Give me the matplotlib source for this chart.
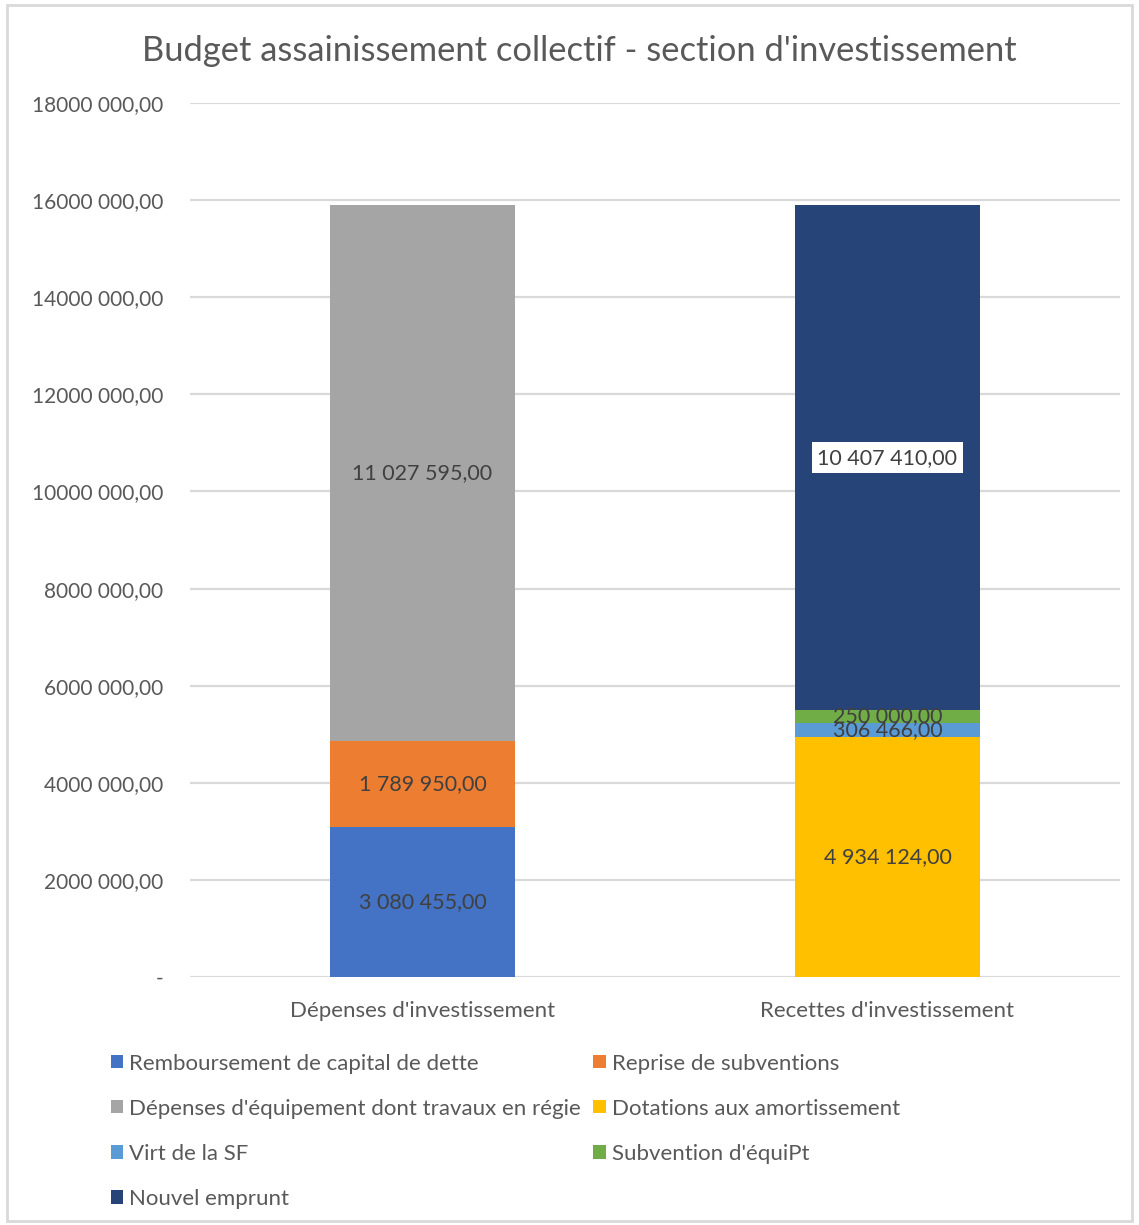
import matplotlib
matplotlib.use("Agg")
import matplotlib.pyplot as plt
from matplotlib.patches import Rectangle, Patch
import numpy as np

categories = ["Dépenses d'investissement", "Recettes d'investissement"]

series_names = [
    "Remboursement de capital de dette",
    "Reprise de subventions",
    "Dépenses d'équipement dont travaux en régie",
    "Dotations aux amortissement",
    "Virt de la SF",
    "Subvention d'équiPt",
    "Nouvel emprunt",
]
remboursement = [3080455.00, 0]
reprise = [1789950.00, 0]
depenses_equip = [11027595.00, 0]
dotations = [0, 4934124.00]
virt_sf = [0, 306466.00]
subvention = [0, 250000.00]
nouvel_emprunt = [0, 10407410.00]

series_values = [remboursement, reprise, depenses_equip, dotations,
                 virt_sf, subvention, nouvel_emprunt]
colors = ["#4472C4", "#ED7D31", "#A5A5A5", "#FFC000",
          "#5B9BD5", "#70AD47", "#264478"]

y_ticks = [0, 2e6, 4e6, 6e6, 8e6, 10e6, 12e6, 14e6, 16e6, 18e6]
y_tick_labels = ["-", "2000 000,00", "4000 000,00", "6000 000,00",
                 "8000 000,00", "10000 000,00", "12000 000,00",
                 "14000 000,00", "16000 000,00", "18000 000,00"]

plt.rcParams["font.family"] = ["Lato", "DejaVu Sans"]
text_color = "#595959"
label_color = "#404040"

def fmt(v):
    whole = int(round(v))
    s = f"{whole:,}".replace(",", " ")
    return s + ",00"

fig = plt.figure(figsize=(11.39, 12.25), dpi=100)
fig.patches.append(Rectangle((0.006, 0.003), 0.988, 0.993, transform=fig.transFigure,
                             fill=False, edgecolor="#D9D9D9", linewidth=2))
ax = fig.add_axes([0.1668, 0.2024, 0.8165, 0.7135])

x = np.arange(len(categories))
bottom = np.zeros(len(categories))
for name, vals, col in zip(series_names, series_values, colors):
    vals = np.array(vals, dtype=float)
    ax.bar(x, vals, width=0.398, bottom=bottom, color=col, label=name, zorder=3)
    for xi, v, b in zip(x, vals, bottom):
        if v <= 0:
            continue
        kw = {}
        if name == "Nouvel emprunt":
            kw["bbox"] = dict(facecolor="white", edgecolor="none", pad=4)
        ax.text(xi, b + v / 2, fmt(v), ha="center", va="center",
                fontsize=15.5, color=label_color, zorder=5, **kw)
    bottom += vals

ax.set_xlim(-0.5, 1.5)
ax.set_ylim(0, 18e6)
ax.set_yticks(y_ticks)
ax.set_yticklabels(y_tick_labels, fontsize=15, color=text_color)
ax.set_xticks(x)
ax.set_xticklabels(categories, fontsize=16, color=text_color)
ax.tick_params(axis="y", length=0, pad=19)
ax.tick_params(axis="x", length=0, pad=17)
ax.grid(axis="y", color="#D9D9D9", linewidth=1.6, zorder=0)
for s in ax.spines.values():
    s.set_visible(False)

fig.text(0.509, 0.958, "Budget assainissement collectif - section d'investissement",
         ha="center", va="center", fontsize=24.8, color=text_color)

handles = [Patch(facecolor=c, edgecolor="none") for c in colors]
order = [0, 2, 4, 6, 1, 3, 5]
leg = fig.legend([handles[i] for i in order], [series_names[i] for i in order],
                 ncol=2, loc="upper left", bbox_to_anchor=(0.0975, 0.140),
                 frameon=False, fontsize=16, handlelength=0.55, handleheight=0.55,
                 handletextpad=0.28, labelspacing=1.13, columnspacing=0.55,
                 borderaxespad=0, borderpad=0)
for t in leg.get_texts():
    t.set_color(text_color)

fig.savefig("out.png", dpi=100)
